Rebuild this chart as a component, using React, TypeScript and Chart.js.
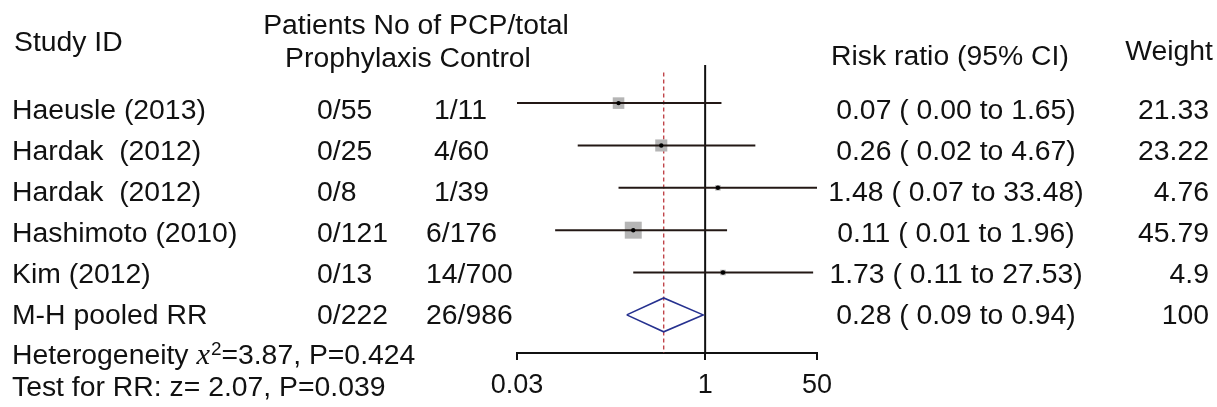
import React, { useEffect, useRef } from "react";
import { Chart, registerables } from "chart.js";

Chart.register(...registerables);

// ---------- data ----------
const studyNames = ["Haeusle (2013)", "Hardak  (2012)", "Hardak  (2012)", "Hashimoto (2010)", "Kim (2012)"];
const pooledName = "M-H pooled RR";
const prophylaxisCounts = ["0/55", "0/25", "0/8", "0/121", "0/13", "0/222"];
const controlCounts = [" 1/11", " 4/60", " 1/39", "6/176", "14/700", "26/986"];
const riskRatio = [0.07, 0.26, 1.48, 0.11, 1.73];
const ciLower = [0.0, 0.02, 0.07, 0.01, 0.11];
const ciUpper = [1.65, 4.67, 33.48, 1.96, 27.53];
const weights = [21.33, 23.22, 4.76, 45.79, 4.9];
const pooledRR = 0.28;
const pooledLower = 0.09;
const pooledUpper = 0.94;
const pooledWeight = 100;
const xTickLabels = ["0.03", "1", "50"];
const heterogeneityChi2 = "3.87";
const heterogeneityP = "0.424";
const testZ = "2.07";
const testP = "0.039";

// ---------- layout ----------
const W = 1217;
const H = 407;
const X_MIN = 0.0031;
const X_MAX = 31;
const X_TICKS = [X_MIN, 1, X_MAX];
const FONT = '"Liberation Sans", Arial, Helvetica, sans-serif';
const FS = 27;
const SX = 1.05;
const INK = "#111111";

const textPlugin = {
  id: "forestText",
  afterDraw(chart: any) {
    const ctx: CanvasRenderingContext2D = chart.ctx;
    const draw = (t: string, x: number, y: number, align: CanvasTextAlign = "left", font = `${FS}px ${FONT}`) => {
      ctx.save();
      ctx.font = font;
      ctx.textAlign = align;
      ctx.textBaseline = "alphabetic";
      ctx.fillStyle = INK;
      ctx.translate(x, y);
      ctx.scale(SX, 1);
      ctx.fillText(t, 0, 0);
      const w = ctx.measureText(t).width * SX;
      ctx.restore();
      return w;
    };
    // headers
    draw("Study ID", 14, 51);
    draw("Patients No of PCP/total", 416, 34, "center");
    draw("Prophylaxis Control", 408, 67, "center");
    draw("Risk ratio (95% CI)", 831, 65);
    draw("Weight", 1213, 60, "right");

    const names = [...studyNames, pooledName];
    const est = [...riskRatio, pooledRR];
    const lo = [...ciLower, pooledLower];
    const hi = [...ciUpper, pooledUpper];
    const wt = [...weights, pooledWeight];
    for (let i = 0; i < names.length; i++) {
      const y = 118.5 + 41 * i;
      draw(names[i], 12, y);
      draw(prophylaxisCounts[i], 317, y);
      draw(controlCounts[i], 426, y);
      draw(`${est[i].toFixed(2)} ( ${lo[i].toFixed(2)} to ${hi[i].toFixed(2)})`, 956, y, "center");
      draw(String(wt[i]), 1209, y, "right");
    }

    // footer
    let x = 12;
    const yH = 364;
    x += draw("Heterogeneity ", x, yH);
    x += draw("x", x, yH, "left", `italic 29px "Liberation Serif", "Times New Roman", serif`);
    x += draw("2", x + 1, yH - 9, "left", `18px ${FONT}`) + 1;
    draw(`=${heterogeneityChi2}, P=${heterogeneityP}`, x, yH);
    draw(`Test for RR: z= ${testZ}, P=${testP}`, 12, 396);
  },
};

export default function App() {
  const ref = useRef<HTMLCanvasElement | null>(null);
  useEffect(() => {
    if (!ref.current) return;
    const lineDs = (pts: { x: number; y: number }[], color: string, width: number, dash: number[] = []) => ({
      data: pts,
      showLine: true,
      borderColor: color,
      borderWidth: width,
      borderDash: dash,
      pointRadius: 0,
      fill: false,
      tension: 0,
    });
    const rows = riskRatio.map((_, i) => i);
    const pooledRow = riskRatio.length;
    const datasets: any[] = [];
    // center dots (top)
    datasets.push({
      data: rows.map((i) => ({ x: riskRatio[i], y: i })),
      pointRadius: 2.2,
      pointStyle: "circle",
      backgroundColor: "#000",
      borderWidth: 0,
      showLine: false,
    });
    // CI lines
    rows.forEach((i) => {
      datasets.push(
        lineDs(
          [
            { x: Math.max(ciLower[i], X_MIN), y: i },
            { x: ciUpper[i], y: i },
          ],
          "#231815",
          2
        )
      );
    });
    // pooled diamond
    datasets.push(
      lineDs(
        [
          { x: pooledLower, y: pooledRow },
          { x: pooledRR, y: pooledRow - 0.4 },
          { x: pooledUpper, y: pooledRow },
          { x: pooledRR, y: pooledRow + 0.4 },
          { x: pooledLower, y: pooledRow },
        ],
        "#26318f",
        1.6
      )
    );
    // weight boxes
    datasets.push({
      data: rows.map((i) => ({ x: riskRatio[i], y: i })),
      pointRadius: rows.map((i) => 1.773 * Math.sqrt(weights[i])),
      pointStyle: "rect",
      backgroundColor: "#b5b5b5",
      borderWidth: 0,
      showLine: false,
    });
    // pooled estimate dashed line
    datasets.push(lineDs([{ x: pooledRR, y: -0.72 }, { x: pooledRR, y: 5.9 }], "#c0454a", 1.4, [4, 3]));
    // null line
    datasets.push(lineDs([{ x: 1, y: -0.9 }, { x: 1, y: 5.9 }], "#111", 2));

    const chart = new Chart(ref.current, {
      type: "scatter",
      data: { datasets },
      options: {
        animation: false,
        responsive: false,
        maintainAspectRatio: false,
        layout: { padding: { left: 517, right: W - 817, top: 65, bottom: 0 } },
        plugins: { legend: { display: false }, tooltip: { enabled: false } },
        scales: {
          x: {
            type: "logarithmic",
            position: "bottom",
            min: X_MIN,
            max: X_MAX,
            afterBuildTicks: (s: any) => {
              s.ticks = X_TICKS.map((v) => ({ value: v }));
            },
            afterFit: (s: any) => {
              s.height = H - 353;
            },
            ticks: {
              autoSkip: false,
              maxRotation: 0,
              padding: 9,
              color: INK,
              font: { size: FS, family: FONT },
              callback: (_v: any, i: number) => xTickLabels[i],
            },
            grid: { drawOnChartArea: false, drawTicks: true, tickLength: 7, color: INK, lineWidth: 2 },
            border: { display: true, color: INK, width: 2 },
          },
          y: { type: "linear", reverse: true, min: -0.9, max: 5.9, display: false },
        },
      } as any,
      plugins: [textPlugin],
    });
    return () => chart.destroy();
  }, []);
  return (
    <div style={{ position: "absolute", left: 0, top: 0, width: W, height: H, background: "#fff" }}>
      <canvas ref={ref} width={W} height={H} style={{ width: W, height: H, display: "block" }} />
    </div>
  );
}
